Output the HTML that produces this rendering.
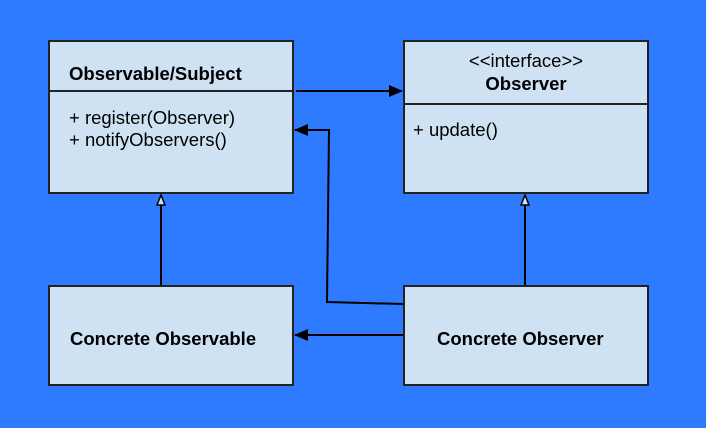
<!DOCTYPE html>
<html><head><style>
body{margin:0;width:706px;height:428px;background:#2f7bff;overflow:hidden;font-family:"Liberation Sans",sans-serif}
</style></head><body>
<svg width="706" height="428" xmlns="http://www.w3.org/2000/svg" style="position:absolute;left:0;top:0">
<defs>
<marker id="f" markerWidth="14" markerHeight="12" refX="13" refY="6" orient="auto" markerUnits="userSpaceOnUse"><path d="M0,0 L14,6 L0,12 z" fill="#000"/></marker>
<marker id="h" markerWidth="12" markerHeight="12" refX="11" refY="5" orient="auto" markerUnits="userSpaceOnUse"><path d="M1,1 L11,5 L1,9 z" fill="#cfe2f3" stroke="#000" stroke-width="1.5"/></marker>
</defs>
<g stroke="#222" stroke-width="2" fill="#cfe2f3">
<rect x="49" y="41" width="244" height="152"/>
<rect x="404" y="41" width="244" height="152"/>
<rect x="49" y="286" width="244" height="99"/>
<rect x="404" y="286" width="244" height="99"/>
<line x1="49" y1="91" x2="293" y2="91"/>
<line x1="404" y1="104" x2="648" y2="104"/>
</g>
<g stroke="#000" stroke-width="2" fill="none">
<line x1="296" y1="91" x2="402" y2="91" marker-end="url(#f)"/>
<polyline points="403,304 327,302 329,130 295,130" marker-end="url(#f)"/>
<line x1="403" y1="335" x2="295" y2="335" marker-end="url(#f)"/>
<line x1="161" y1="285" x2="161" y2="195" marker-end="url(#h)"/>
<line x1="525" y1="285" x2="525" y2="195" marker-end="url(#h)"/>
</g>
<g font-family="Liberation Sans, sans-serif" font-size="18.5" fill="#000">
<text x="69" y="80" font-weight="bold">Observable/Subject</text>
<text x="69" y="124">+ register(Observer)</text>
<text x="69" y="146">+ notifyObservers()</text>
<text x="526" y="67" text-anchor="middle">&lt;&lt;interface&gt;&gt;</text>
<text x="526" y="90" text-anchor="middle" font-weight="bold">Observer</text>
<text x="413" y="136">+ update()</text>
<text x="70" y="345" font-weight="bold">Concrete Observable</text>
<text x="437" y="345" font-weight="bold">Concrete Observer</text>
</g>
</svg>
</body></html>
